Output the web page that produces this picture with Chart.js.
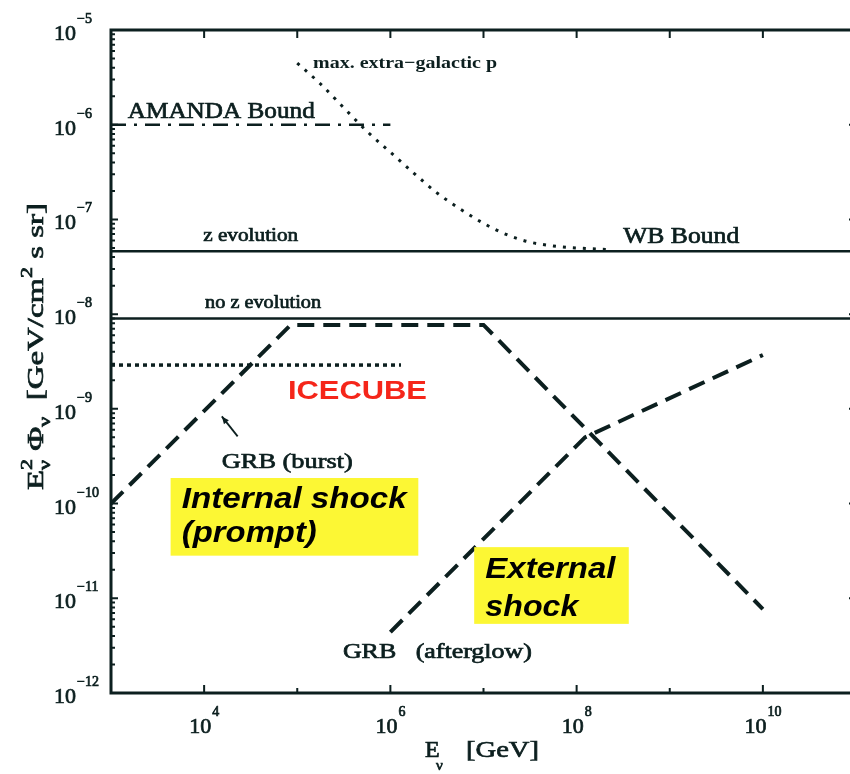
<!DOCTYPE html>
<html>
<head>
<meta charset="utf-8">
<script src="https://cdn.jsdelivr.net/npm/chart.js@4.4.1/dist/chart.umd.min.js"></script>
<style>
  html, body { margin: 0; padding: 0; background: #fff; overflow: hidden; }
  #wrap { width: 870px; height: 774px; }
</style>
</head>
<body>
<div id="wrap"><canvas id="c" width="870" height="774"></canvas></div>
<script>
// Neutrino energy E (GeV) and E^2 * flux (GeV cm^-2 s^-1 sr^-1)
const amandaE = [1e3, 1e6];
const amandaFlux = [1e-6, 1e-6];

const maxEgE = [1e5, 1.78e5, 3.16e5, 5.62e5, 1e6, 1.78e6, 3.16e6, 5.62e6, 1e7, 1.78e7, 3.16e7, 5.62e7, 1e8, 2.24e8];
const maxEgFlux = [4.47e-6, 2.69e-6, 1.51e-6, 8.5e-7, 5.13e-7, 3.09e-7, 1.91e-7, 1.29e-7, 9.1e-8, 6.9e-8, 5.75e-8, 5.25e-8, 5.0e-8, 4.8e-8];

const wbE = [1e3, 1e11];
const wbZEvolFlux = [4.6e-8, 4.6e-8];
const wbNoZEvolFlux = [9e-9, 9e-9];

const icecubeE = [1e3, 1.3e6];
const icecubeFlux = [2.9e-9, 2.9e-9];

const burstE = [1e3, 8.5e4, 1e7, 1e10];
const burstFlux = [1e-10, 7.7e-9, 7.7e-9, 7.7e-12];

const afterglowE = [1e6, 1.23e8, 1e10];
const afterglowFlux = [4.4e-12, 5e-10, 3.7e-9];

// Axis decades
const xTickExps = [4, 6, 8, 10];
const yTickExps = [-5, -6, -7, -8, -9, -10, -11, -12];

const ink = '#0c1f1f';
const pts = (xs, ys) => xs.map((x, i) => ({ x: x, y: ys[i] }));

// Text annotations, anchored at [log10 E, log10 flux] (left edge, baseline)
const notes = [
  { text: 'AMANDA Bound', at: [3.18, -5.93], font: '23px "Liberation Serif"', w: 187, color: ink, heavy: true },
  { text: 'max. extra\u2212galactic p', at: [5.17, -5.40], font: 'bold 17px "Liberation Serif"', w: 184, color: ink },
  { text: 'z evolution', at: [3.99, -7.23], font: '18px "Liberation Serif"', w: 95, color: ink, heavy: true },
  { text: 'no z evolution', at: [4.01, -7.94], font: '18px "Liberation Serif"', w: 116, color: ink, heavy: true },
  { text: 'WB Bound', at: [8.50, -7.25], font: '23px "Liberation Serif"', w: 116, color: ink, heavy: true },
  { text: 'ICECUBE', at: [4.90, -8.90], font: 'bold 26px "Liberation Sans"', w: 139, color: '#f5261a' },
  { text: 'GRB (burst)', at: [4.19, -9.62], font: '22px "Liberation Serif"', w: 131, color: ink, heavy: true },
  { text: 'GRB   (afterglow)', at: [5.49, -11.63], font: '21px "Liberation Serif"', w: 189, color: ink, heavy: true }
];

// Highlight boxes: [logE0, logF0, logE1, logF1] with text lines
const boxes = [
  { rect: [3.64, -9.73, 6.30, -10.55], lines: [
      { text: 'Internal shock', at: [3.76, -10.05], w: 225 },
      { text: '(prompt)', at: [3.76, -10.41], w: 135 } ] },
  { rect: [6.90, -10.46, 8.56, -11.27], lines: [
      { text: 'External', at: [7.02, -10.79], w: 130 },
      { text: 'shock', at: [7.02, -11.19], w: 93 } ] }
];

// Arrow pointing at the burst curve: tail -> head
const arrow = { from: [4.36, -9.29], to: [4.19, -9.08] };

function fitText(ctx, str, x, y, font, width, color, heavy) {
  ctx.save();
  ctx.font = font;
  ctx.fillStyle = color || ink;
  ctx.strokeStyle = color || ink;
  ctx.lineWidth = 0.7;
  ctx.textBaseline = 'alphabetic';
  ctx.textAlign = 'left';
  const m = ctx.measureText(str).width;
  const s = width ? width / m : 1;
  ctx.translate(x, y);
  ctx.scale(s, 1);
  ctx.fillText(str, 0, 0);
  if (heavy) ctx.strokeText(str, 0, 0);
  ctx.restore();
}

function heavyText(ctx, str, x, y) {
  ctx.fillText(str, x, y);
  ctx.strokeText(str, x, y);
}

const decor = {
  id: 'decor',
  afterDatasetsDraw(chart) {
    const ctx = chart.ctx;
    const xs = chart.scales.x, ys = chart.scales.y;
    const px = (l) => xs.getPixelForValue(Math.pow(10, l));
    const py = (l) => ys.getPixelForValue(Math.pow(10, l));
    const a = chart.chartArea;

    // highlight boxes
    boxes.forEach(b => {
      const x0 = px(b.rect[0]), y0 = py(b.rect[1]), x1 = px(b.rect[2]), y1 = py(b.rect[3]);
      ctx.fillStyle = '#fcf734';
      ctx.fillRect(x0, y0, x1 - x0, y1 - y0);
      b.lines.forEach(l => fitText(ctx, l.text, px(l.at[0]), py(l.at[1]),
        'italic bold 30px "Liberation Sans"', l.w, '#000'));
    });

    // text notes
    notes.forEach(n => fitText(ctx, n.text, px(n.at[0]), py(n.at[1]), n.font, n.w, n.color, n.heavy));

    // arrow
    const ax0 = px(arrow.from[0]), ay0 = py(arrow.from[1]);
    const ax1 = px(arrow.to[0]), ay1 = py(arrow.to[1]);
    ctx.save();
    ctx.strokeStyle = ink; ctx.fillStyle = ink; ctx.lineWidth = 1.8;
    ctx.beginPath(); ctx.moveTo(ax0, ay0); ctx.lineTo(ax1, ay1); ctx.stroke();
    const ang = Math.atan2(ay1 - ay0, ax1 - ax0);
    ctx.beginPath();
    ctx.moveTo(ax1, ay1);
    ctx.lineTo(ax1 - 8 * Math.cos(ang - 0.4), ay1 - 8 * Math.sin(ang - 0.4));
    ctx.lineTo(ax1 - 8 * Math.cos(ang + 0.4), ay1 - 8 * Math.sin(ang + 0.4));
    ctx.closePath(); ctx.fill();
    ctx.restore();

    // frame
    ctx.save();
    ctx.strokeStyle = ink;
    ctx.lineWidth = 3;
    ctx.strokeRect(a.left, a.top, a.right - a.left, a.bottom - a.top);

    // ticks (inward)
    ctx.lineWidth = 2;
    ctx.beginPath();
    for (let e = 3; e <= 11; e++) {
      const x = px(e);
      const len = (e % 2 === 0) ? 8 : 5;
      ctx.moveTo(x, a.bottom); ctx.lineTo(x, a.bottom - len);
      ctx.moveTo(x, a.top); ctx.lineTo(x, a.top + 8);
    }
    for (let e = -12; e <= -5; e++) {
      const y = py(e);
      ctx.moveTo(a.left, y); ctx.lineTo(a.left + 7, y);
      ctx.moveTo(a.right, y); ctx.lineTo(a.right - 7, y);
      if (e < -5) {
        for (let m = 2; m <= 9; m++) {
          const ym = ys.getPixelForValue(m * Math.pow(10, e));
          ctx.moveTo(a.left, ym); ctx.lineTo(a.left + 4, ym);
        }
      }
    }
    ctx.stroke();
    ctx.restore();

    // x tick labels: 10^n centred on tick
    ctx.save();
    ctx.fillStyle = ink;
    ctx.strokeStyle = ink;
    ctx.lineWidth = 0.7;
    ctx.textBaseline = 'alphabetic';
    xTickExps.forEach(e => {
      const x = px(e);
      ctx.font = '22px "Liberation Serif"';
      const wb = ctx.measureText('10').width;
      ctx.font = '14px "Liberation Serif"';
      const we = ctx.measureText(String(e)).width;
      const x0 = x - (wb + 1 + we) / 2;
      ctx.font = '22px "Liberation Serif"';
      heavyText(ctx, '10', x0, a.bottom + 40);
      ctx.font = '14px "Liberation Serif"';
      heavyText(ctx, String(e), x0 + wb + 1, a.bottom + 23);
    });

    // y tick labels: 10^-n, left aligned
    yTickExps.forEach(e => {
      const y = py(e);
      ctx.font = '22px "Liberation Serif"';
      heavyText(ctx, '10', 54, y + 10);
      const wb = ctx.measureText('10').width;
      ctx.font = '14px "Liberation Serif"';
      heavyText(ctx, '\u2212' + String(-e), 54 + wb + 1, y - 7);
    });
    ctx.restore();

    // x axis title
    ctx.save();
    ctx.fillStyle = ink;
    ctx.strokeStyle = ink;
    ctx.lineWidth = 0.7;
    ctx.font = '24px "Liberation Serif"';
    heavyText(ctx, 'E', 425, 757);
    ctx.font = '15px "Liberation Serif"';
    heavyText(ctx, '\u03bd', 436, 770);
    fitText(ctx, '[GeV]', 466, 757, '24px "Liberation Serif"', 73, ink, true);
    ctx.restore();

    // y axis title (rotated)
    ctx.save();
    ctx.fillStyle = ink;
    ctx.strokeStyle = ink;
    ctx.lineWidth = 0.7;
    ctx.translate(43, 490);
    ctx.rotate(-Math.PI / 2);
    const big = '24px "Liberation Serif"', small = '16px "Liberation Serif"';
    const parts = [
      { t: 'E', f: big, dy: 0 },
      { stack: [{ t: '2', f: small, dy: -11 }, { t: '\u03bd', f: small, dy: 7 }] },
      { t: ' \u03a6', f: big, dy: 0 },
      { t: '\u03bd', f: small, dy: 7 },
      { t: '  [GeV/cm', f: big, dy: 0 },
      { t: '2', f: small, dy: -11 },
      { t: ' s sr]', f: big, dy: 0 }
    ];
    const widthOf = p => {
      if (p.stack) return Math.max(...p.stack.map(widthOf));
      ctx.font = p.f; return ctx.measureText(p.t).width;
    };
    const total = parts.reduce((s, p) => s + widthOf(p), 0);
    ctx.scale(287 / total, 1);
    let cx = 0;
    parts.forEach(p => {
      const items = p.stack ? p.stack : [p];
      items.forEach(it => { ctx.font = it.f; heavyText(ctx, it.t, cx, it.dy); });
      cx += widthOf(p);
    });
    ctx.restore();
  }
};

const common = { pointRadius: 0, borderColor: ink, fill: false, tension: 0, borderCapStyle: 'butt' };

new Chart(document.getElementById('c'), {
  type: 'line',
  data: {
    datasets: [
      Object.assign({}, common, { label: 'AMANDA Bound', data: pts(amandaE, amandaFlux), borderWidth: 2.5, borderDash: [15, 8, 3, 8] }),
      Object.assign({}, common, { label: 'max. extra-galactic p', data: pts(maxEgE, maxEgFlux), borderWidth: 3, borderDash: [3, 7], cubicInterpolationMode: 'monotone' }),
      Object.assign({}, common, { label: 'z evolution', data: pts(wbE, wbZEvolFlux), borderWidth: 2.5 }),
      Object.assign({}, common, { label: 'no z evolution', data: pts(wbE, wbNoZEvolFlux), borderWidth: 2.5 }),
      Object.assign({}, common, { label: 'ICECUBE', data: pts(icecubeE, icecubeFlux), borderWidth: 3.5, borderDash: [4, 4] }),
      Object.assign({}, common, { label: 'GRB (burst)', data: pts(burstE, burstFlux), borderWidth: 4, borderDash: [17, 9] }),
      Object.assign({}, common, { label: 'GRB (afterglow)', data: pts(afterglowE, afterglowFlux), borderWidth: 4, borderDash: [17, 9] })
    ]
  },
  options: {
    responsive: false,
    animation: false,
    events: [],
    layout: { padding: { left: 111, top: 30, right: 14, bottom: 81 } },
    plugins: { legend: { display: false }, tooltip: { enabled: false } },
    scales: {
      x: { type: 'logarithmic', min: 1e3, max: 1e11, display: false },
      y: { type: 'logarithmic', min: 1e-12, max: 1e-5, display: false }
    }
  },
  plugins: [decor]
});
</script>
</body>
</html>
